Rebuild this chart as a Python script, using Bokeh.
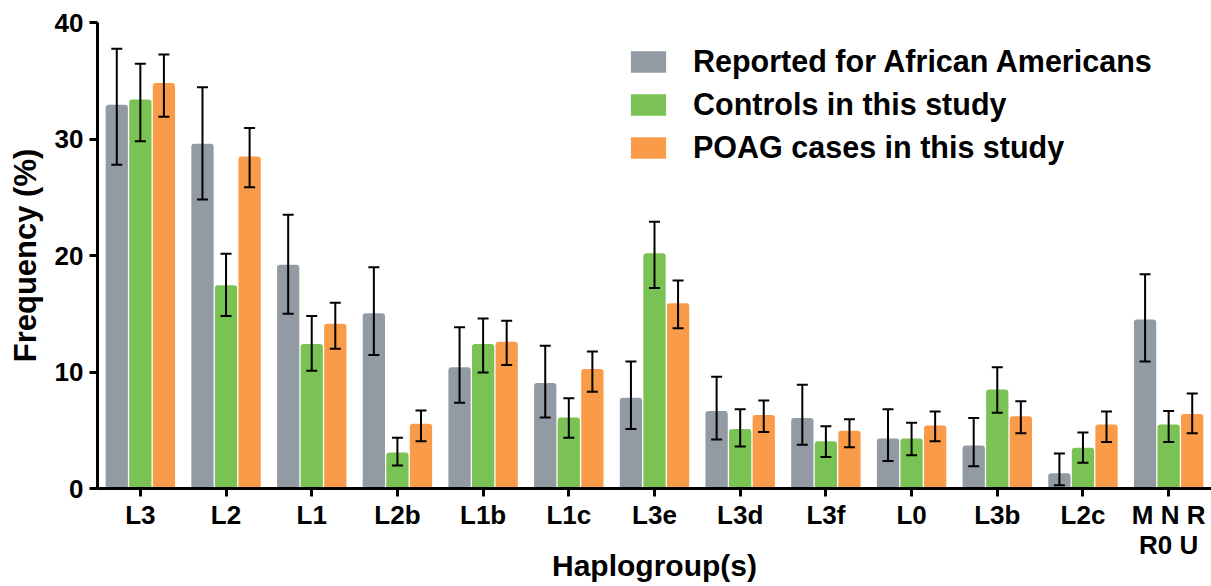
from bokeh.plotting import figure
from bokeh.models import ColumnDataSource, FactorRange, Range1d, FixedTicker, Whisker, TeeHead, Legend, LegendItem
from bokeh.transform import dodge
from bokeh.embed import file_html
from bokeh.resources import INLINE

categories = ["L3", "L2", "L1", "L2b", "L1b", "L1c", "L3e", "L3d", "L3f", "L0", "L3b", "L2c", "M N R\nR0 U"]

reported = [32.95, 29.6, 19.2, 15.05, 10.4, 9.05, 7.8, 6.65, 6.05, 4.3, 3.7, 1.3, 14.5]
reported_lo = [27.8, 24.8, 15.0, 11.45, 7.35, 6.1, 5.1, 4.2, 3.75, 2.35, 1.9, 0.28, 10.9]
reported_hi = [37.75, 34.45, 23.5, 19.0, 13.85, 12.25, 10.9, 9.6, 8.9, 6.8, 6.05, 3.0, 18.4]

controls = [33.4, 17.45, 12.4, 3.1, 12.4, 6.1, 20.2, 5.1, 4.05, 4.3, 8.5, 3.5, 5.5]
controls_lo = [29.8, 14.8, 10.1, 1.97, 9.96, 4.35, 17.2, 3.6, 2.7, 2.85, 6.5, 2.2, 4.0]
controls_hi = [36.45, 20.15, 14.8, 4.35, 14.6, 7.75, 22.9, 6.8, 5.35, 5.65, 10.4, 4.8, 6.65]

cases = [34.8, 28.5, 14.15, 5.55, 12.6, 10.25, 15.9, 6.3, 4.95, 5.4, 6.2, 5.5, 6.4]
cases_lo = [31.9, 25.85, 12.0, 4.06, 10.6, 8.3, 13.75, 4.85, 3.55, 4.05, 4.75, 4.0, 4.75]
cases_hi = [37.25, 30.95, 15.95, 6.7, 14.4, 11.75, 17.85, 7.55, 5.95, 6.6, 7.5, 6.6, 8.15]

series_names = ["Reported for African Americans", "Controls in this study", "POAG cases in this study"]
colors = ["#929aa3", "#7bc254", "#f99b48"]
x_title = "Haplogroup(s)"
y_title = "Frequency (%)"

FONT = "Liberation Sans"

p = figure(
    x_range=FactorRange(*categories, range_padding=0),
    y_range=Range1d(0, 40),
    width=1211, height=586,
    output_backend="svg", toolbar_location=None,
    min_border_left=97, min_border_top=22, min_border_right=0, min_border_bottom=98,
)
p.outline_line_color = None
p.xgrid.grid_line_color = None
p.ygrid.grid_line_color = None
p.background_fill_color = "white"

data = [(reported, reported_lo, reported_hi), (controls, controls_lo, controls_hi), (cases, cases_lo, cases_hi)]
offsets = [-0.275, 0.0, 0.275]

items = []
for (vals, lo, hi), off, col, name in zip(data, offsets, colors, series_names):
    src = ColumnDataSource(dict(x=categories, top=vals, lo=lo, hi=hi))
    r = p.vbar(x=dodge("x", off, range=p.x_range), top="top", width=0.26, source=src,
               fill_color=col, line_color=None, border_radius=(3, 3, 0, 0))
    items.append(LegendItem(label=name, renderers=[r]))
    w = Whisker(base=dodge("x", off, range=p.x_range), upper="hi", lower="lo", source=src,
                line_color="black", line_width=2, level="overlay",
                upper_head=TeeHead(size=11, line_color="black", line_width=2),
                lower_head=TeeHead(size=11, line_color="black", line_width=2))
    p.add_layout(w)

legend = Legend(items=items, location=(529, 323))
legend.background_fill_alpha = 0
legend.border_line_color = None
legend.padding = 0
legend.margin = 0
legend.glyph_width = 44
legend.glyph_height = 27
legend.label_height = 27
legend.label_standoff = 23
legend.spacing = 8
legend.label_text_font = FONT
legend.label_text_font_style = "bold"
legend.label_text_font_size = "30.5px"
legend.label_text_color = "black"
p.add_layout(legend)

for ax in (p.xaxis[0], p.yaxis[0]):
    ax.axis_line_width = 3
    ax.axis_line_color = "black"
    ax.major_tick_line_width = 3
    ax.major_tick_line_color = "black"
    ax.major_tick_in = 0
    ax.major_tick_out = 8
    ax.minor_tick_line_color = None
    ax.major_label_text_font = FONT
    ax.major_label_text_font_style = "bold"
    ax.major_label_text_font_size = "26px"
    ax.major_label_text_color = "black"
    ax.axis_label_text_font = FONT
    ax.axis_label_text_font_style = "bold"
    ax.axis_label_text_color = "black"

p.yaxis.ticker = FixedTicker(ticks=[0, 10, 20, 30, 40])
p.yaxis.axis_label = y_title
p.yaxis.axis_label_text_font_size = "31px"
p.yaxis.major_label_standoff = 6
p.yaxis.axis_label_standoff = 9
p.xaxis.axis_label = x_title
p.xaxis.axis_label_text_font_size = "30px"
p.xaxis.major_label_text_line_height = 1.0
p.xaxis.major_label_standoff = 3
p.xaxis.axis_label_standoff = -14

open("out.html", "w").write(file_html(p, INLINE))
